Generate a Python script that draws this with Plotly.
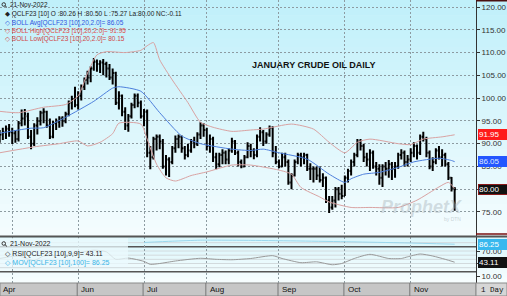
import plotly.graph_objects as go
import pandas as pd

# ---------------- data ----------------
holidays = ["2022-05-30", "2022-06-20", "2022-07-04", "2022-09-05"]
dates = [d.strftime("%Y-%m-%d") for d in pd.bdate_range("2022-04-26", "2022-11-21")
         if d.strftime("%Y-%m-%d") not in holidays]

open_prices = [91.5, 92.0, 92.5, 93.3, 92.5, 92.3, 91.0, 94.5, 95.5, 96.0,
               91.5, 90.0, 94.0, 95.0, 96.8, 97.0, 94.0, 91.5, 94.5, 94.8,
               95.5, 95.0, 96.5, 99.0, 99.8, 98.5, 100.5, 102.5, 104.0, 104.5,
               106.5, 108.0, 107.5, 107.8, 107.5, 106.5, 104.5, 105.5, 99.0, 100.5,
               97.0, 94.0, 96.0, 98.5, 100.5, 99.0, 96.0, 97.0, 88.0, 87.0,
               91.0, 91.5, 90.5, 85.0, 86.5, 86.0, 89.0, 91.0, 91.5, 89.0,
               87.5, 88.5, 90.5, 90.0, 92.0, 94.0, 93.0, 89.5, 91.0, 87.0,
               85.5, 87.5, 88.0, 86.5, 88.5, 90.5, 88.0, 86.0, 85.0, 87.0,
               89.5, 88.5, 87.5, 91.5, 92.5, 90.5, 92.0, 93.5, 88.0, 86.0,
               85.0, 87.0, 86.0, 81.5, 83.0, 86.0, 87.5, 87.0, 87.5, 84.5,
               84.5, 84.5, 83.0, 82.0, 82.5, 77.5, 76.0, 77.5, 80.0, 79.0,
               78.5, 82.5, 84.0, 86.0, 87.5, 90.5, 89.5, 87.0, 86.5, 88.0,
               85.0, 84.5, 82.5, 85.0, 84.5, 85.5, 84.5, 85.0, 87.5, 88.0,
               86.0, 86.5, 88.0, 89.5, 88.0, 91.5, 91.0, 88.0, 85.0, 86.0,
               88.5, 87.0, 87.5, 85.5, 82.5, 80.26]
high_prices = [93.0, 93.5, 94.0, 94.3, 93.5, 93.0, 95.0, 97.5, 97.6, 96.8,
               93.0, 94.5, 95.8, 97.2, 97.8, 97.2, 95.5, 95.0, 95.5, 96.0,
               96.0, 97.0, 99.5, 100.5, 102.5, 101.5, 103.0, 104.5, 106.0, 107.0,
               108.8, 108.5, 108.3, 108.6, 108.0, 107.5, 106.5, 105.8, 101.5, 100.8,
               98.0, 96.5, 99.0, 101.0, 101.0, 99.5, 97.6, 97.5, 89.5, 91.5,
               92.0, 92.0, 91.0, 87.5, 87.0, 89.5, 91.8, 92.0, 91.8, 89.5,
               90.0, 91.0, 91.5, 92.5, 94.7, 94.5, 93.5, 92.0, 91.5, 88.0,
               88.0, 88.8, 88.5, 89.0, 91.3, 90.8, 88.5, 86.5, 87.5, 90.3,
               90.0, 89.0, 92.0, 93.6, 93.0, 92.5, 94.0, 93.8, 89.5, 86.5,
               88.0, 88.0, 86.5, 83.5, 86.5, 88.0, 88.0, 88.0, 87.8, 85.7,
               85.0, 85.0, 85.0, 83.5, 82.8, 78.5, 78.5, 80.5, 80.5, 81.0,
               83.0, 84.5, 86.5, 88.0, 91.0, 91.0, 90.0, 88.0, 88.8, 88.5,
               86.0, 85.5, 85.5, 86.0, 86.4, 86.0, 86.0, 88.0, 88.8, 88.5,
               87.5, 89.0, 90.3, 89.8, 92.0, 92.6, 91.5, 88.5, 87.0, 89.0,
               89.5, 88.8, 88.0, 86.0, 82.7, 80.50]
low_prices = [90.2, 90.8, 91.0, 91.5, 89.9, 90.2, 90.5, 93.8, 94.0, 91.0,
              88.8, 89.5, 92.0, 94.0, 94.5, 93.5, 91.0, 91.2, 93.0, 93.5,
              93.7, 94.5, 96.0, 97.5, 98.0, 97.5, 99.5, 101.8, 103.0, 103.5,
              106.0, 105.8, 105.5, 105.0, 104.5, 104.0, 103.0, 98.5, 97.5, 96.0,
              93.0, 92.6, 95.5, 97.8, 98.0, 95.5, 93.8, 87.0, 84.4, 86.5,
              88.5, 88.8, 84.5, 83.0, 82.7, 85.5, 88.0, 89.0, 88.0, 86.5,
              87.0, 88.0, 89.0, 89.5, 91.0, 91.5, 88.5, 88.0, 86.0, 84.4,
              84.8, 85.5, 85.5, 85.5, 88.0, 87.5, 85.0, 84.6, 84.8, 86.8,
              87.0, 86.6, 87.0, 90.5, 89.5, 90.0, 91.5, 87.0, 85.5, 84.6,
              84.8, 85.0, 81.0, 80.0, 82.8, 85.5, 85.0, 85.5, 84.0, 82.0,
              81.5, 82.0, 81.5, 80.5, 77.0, 74.8, 75.5, 76.0, 77.5, 77.8,
              78.5, 81.5, 83.0, 85.0, 87.0, 88.5, 86.0, 85.0, 84.0, 84.5,
              83.0, 81.0, 80.5, 83.0, 82.5, 82.0, 82.5, 84.5, 86.5, 85.0,
              85.0, 86.0, 87.0, 86.5, 87.5, 90.5, 87.0, 84.4, 84.0, 85.5,
              86.5, 85.0, 85.0, 82.0, 79.5, 75.27]
close_prices = [92.0, 92.5, 93.3, 92.5, 92.3, 91.0, 94.5, 95.5, 96.5, 91.5,
                90.0, 94.0, 95.0, 96.8, 97.0, 94.0, 91.5, 94.5, 94.8, 95.5,
                95.0, 96.5, 99.0, 99.8, 98.5, 100.5, 102.5, 104.0, 104.5, 106.5,
                108.0, 107.5, 107.8, 107.5, 106.5, 104.5, 105.5, 99.0, 100.5, 97.0,
                94.0, 96.0, 98.5, 100.5, 99.0, 96.0, 97.0, 88.0, 87.0, 91.0,
                91.5, 90.5, 85.0, 86.5, 86.0, 89.0, 91.0, 91.5, 89.0, 87.5,
                88.5, 90.5, 90.0, 92.0, 94.0, 93.0, 89.5, 91.0, 87.0, 85.5,
                87.5, 88.0, 86.5, 88.5, 90.5, 88.0, 86.0, 85.0, 87.0, 89.5,
                88.5, 87.5, 91.5, 92.5, 90.5, 92.0, 93.5, 88.0, 86.0, 85.0,
                87.0, 86.0, 81.5, 83.0, 86.0, 87.5, 87.0, 87.5, 84.5, 84.5,
                84.5, 83.0, 82.0, 82.5, 77.5, 76.0, 77.5, 80.0, 79.0, 78.5,
                82.5, 84.0, 86.0, 87.5, 90.5, 89.5, 87.0, 86.5, 88.0, 85.0,
                84.5, 82.5, 85.0, 84.5, 85.5, 84.5, 85.0, 87.5, 88.0, 86.0,
                86.5, 88.0, 89.5, 88.0, 91.5, 91.0, 88.0, 85.0, 86.0, 88.5,
                87.0, 87.5, 85.5, 82.5, 80.2, 80.00]

# Bollinger bands at sample dates
boll_high_dates = ["2022-04-26", "2022-05-04", "2022-05-16", "2022-05-25", "2022-06-01", "2022-06-06",
                   "2022-06-09", "2022-06-14", "2022-06-23", "2022-06-30", "2022-07-05", "2022-07-07",
                   "2022-07-11", "2022-07-15", "2022-07-22", "2022-07-28", "2022-08-03", "2022-08-11",
                   "2022-08-19", "2022-08-25", "2022-09-08", "2022-09-19", "2022-09-26", "2022-10-03",
                   "2022-10-07", "2022-10-13", "2022-10-26", "2022-11-01", "2022-11-07", "2022-11-15",
                   "2022-11-21"]
boll_high_vals = [97.1, 96.8, 98.0, 98.6, 100.5, 105.5, 109.5, 110.2, 110.0, 110.5, 111.5, 112.2,
                  108.4, 104.0, 99.0, 94.7, 93.6, 92.7, 93.0, 93.2, 94.3, 93.2, 90.3, 88.0,
                  90.3, 91.0, 90.0, 89.8, 91.0, 91.5, 91.95]
boll_avg_dates = ["2022-04-26", "2022-05-04", "2022-05-10", "2022-05-16", "2022-05-25", "2022-06-08",
                  "2022-06-16", "2022-06-21", "2022-06-30", "2022-07-11", "2022-07-20", "2022-07-28",
                  "2022-08-11", "2022-08-19", "2022-08-25", "2022-09-01", "2022-09-15", "2022-09-26",
                  "2022-10-03", "2022-10-05", "2022-10-11", "2022-10-18", "2022-10-26", "2022-11-02",
                  "2022-11-14", "2022-11-18", "2022-11-21"]
boll_avg_vals = [92.3, 93.0, 93.4, 93.5, 95.8, 99.3, 102.2, 102.5, 101.5, 96.8, 91.7, 90.0,
                 88.8, 88.5, 88.8, 88.0, 86.6, 83.3, 81.5, 82.3, 83.3, 83.7, 84.8, 86.0,
                 86.8, 86.3, 86.05]
boll_low_dates = ["2022-04-26", "2022-05-11", "2022-05-23", "2022-06-01", "2022-06-06", "2022-06-10",
                  "2022-06-16", "2022-06-21", "2022-06-30", "2022-07-05", "2022-07-08", "2022-07-13",
                  "2022-07-18", "2022-07-25", "2022-08-01", "2022-08-11", "2022-08-19", "2022-09-01",
                  "2022-09-08", "2022-09-13", "2022-09-21", "2022-09-26", "2022-10-05", "2022-10-13",
                  "2022-10-26", "2022-11-03", "2022-11-14", "2022-11-17", "2022-11-21"]
boll_low_vals = [88.0, 89.3, 90.0, 90.6, 89.5, 90.3, 92.2, 94.5, 94.3, 91.0, 85.5, 82.5,
                 81.8, 83.0, 83.8, 85.3, 85.3, 84.2, 83.3, 80.4, 78.3, 77.2, 76.0, 76.0,
                 76.0, 77.6, 80.5, 81.5, 80.15]

# RSI(9) and its 100-period moving average
rsi_dates = ["2022-04-26", "2022-05-04", "2022-05-11", "2022-05-16", "2022-05-25", "2022-06-08",
             "2022-06-14", "2022-06-17", "2022-06-24", "2022-07-01", "2022-07-06", "2022-07-11",
             "2022-07-18", "2022-07-28", "2022-08-04", "2022-08-11", "2022-08-19", "2022-08-30",
             "2022-09-02", "2022-09-13", "2022-09-20", "2022-09-27", "2022-09-30", "2022-10-06",
             "2022-10-13", "2022-10-21", "2022-10-27", "2022-10-31", "2022-11-04", "2022-11-10",
             "2022-11-16", "2022-11-21"]
rsi_vals = [52, 58, 47, 58, 60, 72, 68, 50, 53, 45, 38, 40, 46, 52.5, 50, 49, 52, 58.8,
            52, 42, 44, 37, 40, 52, 62, 52, 52, 56, 62.8, 58, 50, 43.11]
mov_dates = ["2022-07-01", "2022-07-15", "2022-07-28", "2022-08-19", "2022-09-13", "2022-10-05",
             "2022-10-28", "2022-11-21"]
mov_vals = [90.5, 93.5, 96.0, 95.5, 94.0, 92.0, 89.5, 86.25]

month_label_text = ["Apr", "Jun", "Jul", "Aug", "Sep", "Oct", "Nov"]
month_label_dates = ["2022-04-26", "2022-06-01", "2022-07-01", "2022-08-01", "2022-09-01", "2022-10-03", "2022-11-01"]
price_ticks = [75, 80, 85, 90, 95, 100, 105, 110, 115, 120]
price_ticks_hidden = [80]          # covered by the last-price box in the reference
rsi_ticks = [10, 40, 70]
rsi_ticks_hidden = [40]            # covered by the RSI value box

# ---------------- helpers ----------------
idx = {d: i for i, d in enumerate(dates)}
xs = list(range(len(dates)))
month_starts = []
for i, d in enumerate(dates):
    if i > 0 and d[5:7] != dates[i - 1][5:7]:
        month_starts.append(i)

W, H = 507, 296
ML, MR, MT, MB = 0, 31, 0, 13
PW, PH = W - ML - MR, H - MT - MB


def px(xp):
    return (xp - ML) / PW


def py(yp):
    return (PH + MT - yp) / PH


FONT = "Liberation Sans, Arial, DejaVu Sans"
GRID = "#8d9ba1"

fig = go.Figure()

# Price bars
fig.add_trace(go.Ohlc(x=xs, open=open_prices, high=high_prices, low=low_prices, close=close_prices,
                      increasing=dict(line=dict(color="black", width=2)),
                      decreasing=dict(line=dict(color="black", width=2)),
                      tickwidth=0.42, xaxis="x", yaxis="y", hoverinfo="skip"))
# Bollinger
for dts, vals, col in [(boll_high_dates, boll_high_vals, "#d9a2a2"),
                       (boll_low_dates, boll_low_vals, "#d9a2a2"),
                       (boll_avg_dates, boll_avg_vals, "#4d7fdc")]:
    fig.add_trace(go.Scatter(x=[idx[d] for d in dts], y=vals, mode="lines",
                             line=dict(color=col, width=1, shape="spline", smoothing=0.6),
                             xaxis="x", yaxis="y", hoverinfo="skip"))
# RSI panel
fig.add_trace(go.Scatter(x=[idx[d] for d in mov_dates], y=mov_vals, mode="lines",
                         line=dict(color="#9ad8ee", width=1, shape="spline", smoothing=0.6),
                         xaxis="x2", yaxis="y2", hoverinfo="skip"))
fig.add_trace(go.Scatter(x=[idx[d] for d in rsi_dates], y=rsi_vals, mode="lines",
                         line=dict(color="#9a9a9a", width=1, shape="spline", smoothing=0.6),
                         xaxis="x2", yaxis="y2", hoverinfo="skip"))

xr = [0.1, 151.8]
main_dom = [(PH - 236) / PH, 1.0]
rsi_dom = [0.0, (PH - 237) / PH]

fig.update_layout(
    width=W, height=H, margin=dict(l=ML, r=MR, t=MT, b=MB),
    paper_bgcolor="#eafafd", plot_bgcolor="rgba(0,0,0,0)",
    showlegend=False,
    xaxis=dict(domain=[0, 1], range=xr, anchor="y", showticklabels=False, rangeslider=dict(visible=False),
               tickvals=month_starts, showgrid=True, gridcolor=GRID, griddash="2px,2px", gridwidth=1,
               zeroline=False, showline=False, ticks=""),
    xaxis2=dict(domain=[0, 1], range=xr, anchor="y2", matches="x", showticklabels=False,
                tickvals=month_starts, showgrid=True, gridcolor=GRID, griddash="2px,2px", gridwidth=1,
                zeroline=False, showline=False, ticks=""),
    yaxis=dict(domain=main_dom, range=[69.73, 121.54], side="right", anchor="x",
               tickvals=price_ticks,
               ticktext=["" if v in price_ticks_hidden else f"{v:.2f}" for v in price_ticks],
               ticks="outside", ticklen=3, tickcolor="#333", tickfont=dict(family=FONT, size=8, color="#333"),
               showgrid=True, gridcolor=GRID, griddash="2px,2px", gridwidth=1,
               showline=True, linecolor="#333", linewidth=1, zeroline=False),
    yaxis2=dict(domain=rsi_dom, range=[-6.8, 103.6], side="right", anchor="x2",
                tickvals=rsi_ticks,
                ticktext=["" if v in rsi_ticks_hidden else f"{v:.2f}" for v in rsi_ticks],
                ticks="outside", ticklen=3, tickcolor="#333", tickfont=dict(family=FONT, size=8, color="#333"),
                showgrid=False, showline=True, linecolor="#333", linewidth=1, zeroline=False),
)

shapes = []
# gradient background (main panel + right axis area)
N = 30
c0, c1 = (192, 240, 250), (244, 252, 254)
for k in range(N):
    t = k / (N - 1)
    col = tuple(round(c0[j] + (c1[j] - c0[j]) * t) for j in range(3))
    y0p = 236 * k / N
    y1p = 236 * (k + 1) / N
    shapes.append(dict(type="rect", xref="paper", yref="paper", x0=0, x1=W / PW, y0=py(y1p), y1=py(y0p) + 0.002,
                       fillcolor=f"rgb{col}", line=dict(width=0), layer="below"))
c0, c1 = (218, 246, 251), (246, 253, 254)
for k in range(10):
    t = k / 9
    col = tuple(round(c0[j] + (c1[j] - c0[j]) * t) for j in range(3))
    y0p = 237 + 46 * k / 10
    y1p = 237 + 46 * (k + 1) / 10
    shapes.append(dict(type="rect", xref="paper", yref="paper", x0=0, x1=W / PW, y0=py(y1p), y1=py(y0p) + 0.002,
                       fillcolor=f"rgb{col}", line=dict(width=0), layer="below"))
# RSI light grid and 20/80 lines
for v in [30, 40, 50, 60, 70, 90]:
    shapes.append(dict(type="line", xref="x2", yref="y2", x0=xr[0], x1=xr[1], y0=v, y1=v,
                       line=dict(color="#d2dadd", width=1), layer="below"))
for v in [20, 80]:
    shapes.append(dict(type="line", xref="x2", yref="y2", x0=xr[0], x1=xr[1], y0=v, y1=v,
                       line=dict(color="#555", width=1.5), layer="below"))
# separators
shapes.append(dict(type="line", xref="paper", yref="paper", x0=0, x1=W / PW, y0=py(236.5), y1=py(236.5),
                   line=dict(color="#555", width=2)))
shapes.append(dict(type="line", xref="paper", yref="paper", x0=1.0, x1=W / PW, y0=py(234), y1=py(234),
                   line=dict(color="#7a1010", width=1.5)))
shapes.append(dict(type="rect", xref="paper", yref="paper", x0=1.0, x1=W / PW, y0=py(1.5), y1=py(-1),
                   fillcolor="#4a1010", line=dict(width=0)))
# bottom strip
shapes.append(dict(type="rect", xref="paper", yref="paper", x0=0, x1=1, y0=py(296), y1=py(283),
                   fillcolor="#c6c6c6", line=dict(color="#8a8a8a", width=1)))
shapes.append(dict(type="rect", xref="paper", yref="paper", x0=1.0, x1=W / PW, y0=py(296), y1=py(283),
                   fillcolor="#d6d6d6", line=dict(color="#8a8a8a", width=1)))
for d in month_label_dates[1:]:
    shapes.append(dict(type="line", xref="x2", yref="paper", x0=idx[d] - 0.3, x1=idx[d] - 0.3,
                       y0=py(296), y1=py(283), line=dict(color="#777", width=1)))
# RSI legend backdrop
shapes.append(dict(type="rect", xref="paper", yref="paper", x0=px(0), x1=px(128), y0=py(267), y1=py(238),
                   fillcolor="rgba(235,250,253,0.75)", line=dict(width=0)))
# magnifier icons
for (cx, cy) in [(4, 4.5), (4, 243.5)]:
    shapes.append(dict(type="circle", xref="paper", yref="paper", x0=px(cx - 2), x1=px(cx + 1.5),
                       y0=py(cy + 1.8), y1=py(cy - 1.8), line=dict(color="#333", width=1)))
    shapes.append(dict(type="line", xref="paper", yref="paper", x0=px(cx + 1), x1=px(cx + 3),
                       y0=py(cy + 1.2), y1=py(cy + 3), line=dict(color="#333", width=1)))
fig.update_layout(shapes=shapes)

ann = []


def txt(x, y, s, color="#222", size=6.5, family=FONT, **kw):
    ann.append(dict(xref="paper", yref="paper", x=px(x), y=py(y), text=s, showarrow=False,
                    xanchor="left", yanchor="middle", font=dict(family=family, size=size, color=color), **kw))


txt(8, 4.7, "21-Nov-2022", size=6.5)
txt(3, 14, "◆ QCLF23 [10] O :80.26 H :80.50 L :75.27 La:80.00 NC:-0.11", size=6.5)
txt(3, 22.7, "◇ BOLL Avg[QCLF23 [10],20,2.0]= 86.05", color="#2f55e0", size=6.5)
txt(3, 31, "◇ BOLL High[QCLF23 [10],20,2.0]= 91.95", color="#e04a4a", size=6.5)
txt(3, 39.3, "◇ BOLL Low[QCLF23 [10],20,2.0]= 80.15", color="#d04545", size=6.5)
txt(8, 243.8, "21-Nov-2022", size=7)
txt(3, 253.5, "◇ RSI[QCLF23 [10],9,9]= 43.11", size=7)
txt(3, 263, "◇ MOV[QCLF23 [10],100]= 86.25", color="#3ab4e6", size=7)

# title
ann.append(dict(xref="paper", yref="paper", x=px(314), y=py(65), text="<b>JANUARY CRUDE OIL DAILY</b>",
                showarrow=False, xanchor="center", yanchor="middle",
                font=dict(family=FONT, size=9, color="#111")))
# watermark
ann.append(dict(xref="paper", yref="paper", x=px(421), y=py(207), text="<b><i>ProphetX</i></b>",
                showarrow=False, xanchor="center", yanchor="middle",
                font=dict(family=FONT, size=18, color="rgba(170,182,188,0.45)")))
ann.append(dict(xref="paper", yref="paper", x=px(452), y=py(219), text="by DTN",
                showarrow=False, xanchor="center", yanchor="middle",
                font=dict(family=FONT, size=5, color="rgba(170,182,188,0.6)")))

# month labels
for lab, d in zip(month_label_text, month_label_dates):
    xv = idx[d] if lab != "Apr" else xr[0]
    ann.append(dict(xref="x2", yref="paper", x=xv, y=py(289.5), text=lab, showarrow=False,
                    xanchor="left", yanchor="middle", xshift=1,
                    font=dict(family=FONT, size=8, color="#111")))
txt(479, 289.5, "1 Day", size=7.5, family="Liberation Mono, Courier New, monospace", color="#111")


def box(yref, val, s, bg, fg="white", border=None):
    ann.append(dict(xref="paper", yref=yref, x=1.0 + 1.5 / PW, y=val, text=s, showarrow=False,
                    xanchor="left", yanchor="middle", bgcolor=bg, width=28, height=9, align="left",
                    borderpad=0, bordercolor=border or bg, borderwidth=1,
                    font=dict(family=FONT, size=8, color=fg)))


box("y", 91.95, "91.95", "#ff1a1a")
box("y", 86.05, "86.05", "#2356ff", fg="#dfe8ff")
box("y", 80.0, "80.00", "#111111", border="#8a1a1a")
box("y2", 86.25, "86.25", "#38b8ee")
box("y2", 43.11, "43.11", "#111111")

fig.update_layout(annotations=ann)
fig.write_html("out.html")
